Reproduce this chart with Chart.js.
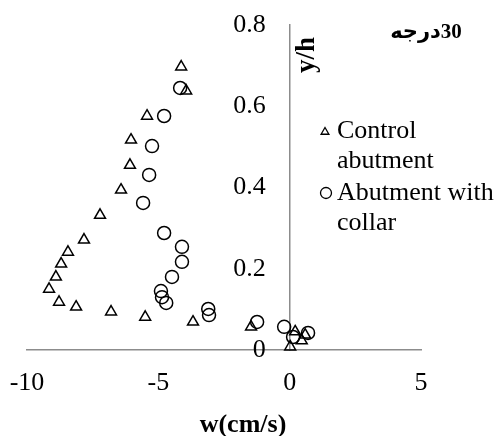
<!DOCTYPE html>
<html><head><meta charset="utf-8">
<script src="https://cdn.jsdelivr.net/npm/chart.js@4/dist/chart.umd.min.js"></script>
<style>html,body{margin:0;padding:0;background:#fff}#wrap{position:relative;width:498px;height:436px}</style>
</head><body><div id="wrap"><canvas id="c" width="498" height="436"></canvas></div>
<script>
// Control abutment (triangles)
const controlW = [-4.13,-3.94,-5.43,-6.04,-6.08,-6.42,-7.22,-7.83,-8.44,-8.70,-8.90,-9.16,-8.78,-8.13,-6.80,-5.50,-3.68,-1.47,0.02,0.21,0.46,0.59];
const controlY = [0.697,0.638,0.576,0.517,0.455,0.394,0.332,0.271,0.241,0.212,0.180,0.150,0.118,0.106,0.094,0.081,0.069,0.057,0.008,0.045,0.023,0.037];
// Abutment with collar (circles)
const collarW = [-4.17,-4.78,-5.24,-5.35,-5.58,-4.78,-4.10,-4.10,-4.48,-4.90,-4.86,-4.70,-3.10,-3.07,-1.24,-0.21,0.13,0.70];
const collarY = [0.645,0.576,0.502,0.431,0.362,0.288,0.254,0.217,0.180,0.145,0.130,0.116,0.101,0.086,0.069,0.057,0.032,0.042];
const xTickLabels = ['-10','-5','0','5'];
const yTickLabels = ['0','0.2','0.4','0.6','0.8'];
const seriesNames = [['Control','abutment'],['Abutment with','collar']];
const chartTitle = '30درجه';
const xTitle = 'w(cm/s)';
const yTitle = 'y/h';

const FONT = "'Liberation Serif','Times New Roman',serif";
const AXIS_COLOR = '#8c8c8c';

const toPts = (xs, ys) => xs.map((x, i) => ({x: x, y: ys[i]}));
const noPad = s => { s.paddingLeft = 0; s.paddingRight = 0; s.paddingTop = 0; s.paddingBottom = 0; };

const relocateY = {
  id: 'relocateY',
  afterLayout(chart) {
    const y = chart.scales.y, x = chart.scales.x;
    const px = x.getPixelForValue(0);
    y.left = px - 80;
    y.right = px;
    y.width = 80;
  }
};

const textPlugin = {
  id: 'texts',
  afterDraw(chart) {
    const ctx = chart.ctx;
    ctx.save();
    ctx.fillStyle = '#000';
    // title
    ctx.font = "bold 21px " + FONT + ",'DejaVu Sans'";
    ctx.direction = 'rtl';
    ctx.textAlign = 'center';
    ctx.textBaseline = 'middle';
    ctx.fillText(chartTitle, 426, 33);
    ctx.direction = 'ltr';
    // y title rotated
    ctx.save();
    ctx.translate(307, 55);
    ctx.rotate(-Math.PI / 2);
    ctx.font = "bold 27px " + FONT;
    ctx.textAlign = 'center';
    ctx.textBaseline = 'middle';
    ctx.fillText(yTitle, 0, 0);
    ctx.restore();
    // x title
    ctx.font = "bold 26px " + FONT;
    ctx.textAlign = 'center';
    ctx.textBaseline = 'middle';
    ctx.fillText(xTitle, 243, 425);
    // legend
    ctx.font = "26px " + FONT;
    ctx.textAlign = 'left';
    ctx.textBaseline = 'middle';
    const rows = [131, 193];
    seriesNames.forEach((lines, i) => {
      const cy = rows[i];
      lines.forEach((t, j) => ctx.fillText(t, 337, cy + j * 30));
    });
    ctx.strokeStyle = '#000';
    ctx.lineWidth = 1.3;
    // triangle marker
    ctx.beginPath();
    const tr = 4.5, tx = 325, ty = 132;
    ctx.moveTo(tx, ty - tr);
    ctx.lineTo(tx + tr * Math.sin(Math.PI / 3), ty + tr / 2);
    ctx.lineTo(tx - tr * Math.sin(Math.PI / 3), ty + tr / 2);
    ctx.closePath();
    ctx.stroke();
    // circle marker
    ctx.beginPath();
    ctx.arc(326, 193, 5.5, 0, Math.PI * 2);
    ctx.stroke();
    ctx.restore();
  }
};

new Chart(document.getElementById('c'), {
  type: 'scatter',
  data: {
    datasets: [
      {label: seriesNames[0].join(' '), data: toPts(controlW, controlY), pointStyle: 'triangle', pointRadius: 6.3,
       borderColor: '#000', backgroundColor: 'rgba(0,0,0,0)', pointBorderWidth: 1.5, clip: false},
      {label: seriesNames[1].join(' '), data: toPts(collarW, collarY), pointStyle: 'circle', pointRadius: 6.5,
       borderColor: '#000', backgroundColor: 'rgba(0,0,0,0)', pointBorderWidth: 1.5, clip: false}
    ]
  },
  options: {
    responsive: false, animation: false, devicePixelRatio: 1,
    layout: {padding: {left: 27, right: 77, top: 25, bottom: 0}},
    plugins: {legend: {display: false}, tooltip: {enabled: false}, title: {display: false}},
    scales: {
      x: {
        type: 'linear', position: 'bottom', min: -10, max: 5,
        ticks: {stepSize: 5, autoSkip: false, maxRotation: 0, padding: 18, color: '#000',
                font: {family: FONT, size: 26}, callback: (v, i) => xTickLabels[i]},
        grid: {display: false, drawTicks: false},
        border: {display: true, color: AXIS_COLOR, width: 1.5},
        afterFit: s => { s.height = 86; noPad(s); }
      },
      y: {
        type: 'linear', position: 'left', min: 0, max: 0.8,
        ticks: {stepSize: 0.2, autoSkip: false, padding: 24, color: '#000',
                font: {family: FONT, size: 26}, callback: (v, i) => yTickLabels[i]},
        grid: {display: false, drawTicks: false},
        border: {display: true, color: AXIS_COLOR, width: 1.5},
        afterFit: s => { s.width = 0; noPad(s); }
      }
    }
  },
  plugins: [relocateY, textPlugin]
});
</script></body></html>
